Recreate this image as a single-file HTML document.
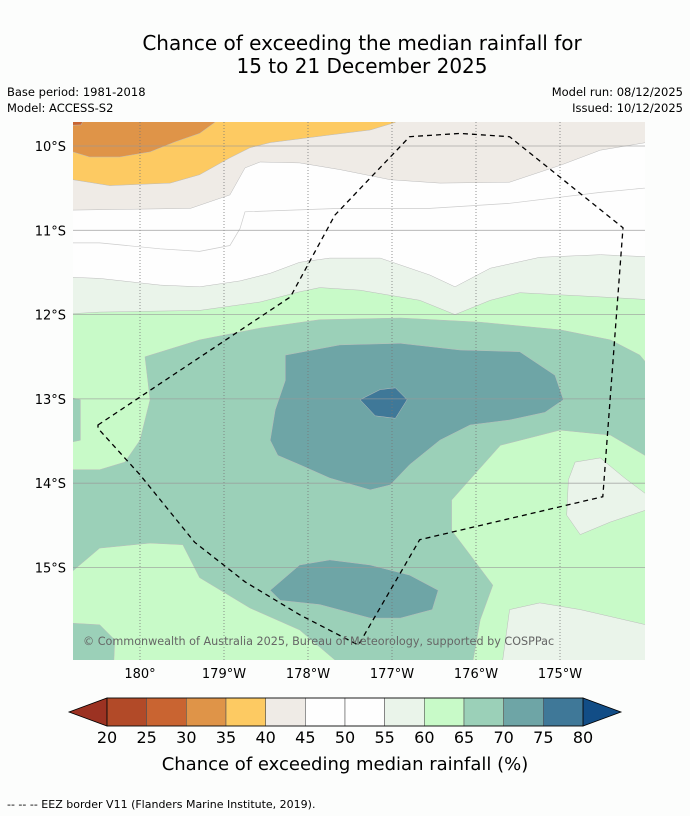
<!DOCTYPE html>
<html><head><meta charset="utf-8"><style>
body{margin:0;background:#fcfdfc;font-family:"DejaVu Sans",sans-serif;}
svg{display:block}
</style></head><body>
<svg id="s" width="690" height="816" xmlns="http://www.w3.org/2000/svg" font-family="DejaVu Sans, Liberation Sans, sans-serif">
<rect width="690" height="816" fill="#fcfdfc"/>
<text x="362" y="50" font-size="20" text-anchor="middle" fill="#000">Chance of exceeding the median rainfall for</text>
<text x="362" y="73" font-size="20" text-anchor="middle" fill="#000">15 to 21 December 2025</text>
<text x="7" y="96" font-size="11.5">Base period: 1981-2018</text>
<text x="7" y="112" font-size="11.5">Model: ACCESS-S2</text>
<text x="683" y="96" font-size="11.5" text-anchor="end">Model run: 08/12/2025</text>
<text x="683" y="112" font-size="11.5" text-anchor="end">Issued: 10/12/2025</text>
<defs><clipPath id="mc"><rect x="73" y="122" width="572" height="538"/></clipPath></defs>
<g id="map" clip-path="url(#mc)"><rect x="73" y="122" width="572" height="538" fill="#fefefe"/></g>
<g id="axes"></g>
<g id="cbar"></g>
<text x="345" y="770" font-size="18" text-anchor="middle">Chance of exceeding median rainfall (%)</text>
<text x="7" y="808" font-size="11">--  --  -- EEZ border V11 (Flanders Marine Institute, 2019).</text>
</svg>
<script>
const levels=[20,25,30,35,40,45,50,55,60,65,70,75,80];
const colors=["#9c3222","#b24a28","#c96431","#df9448","#fdca62","#efebe6","#fefefe","#fefefe","#eaf4ea","#c8fac8","#9bd0b8","#6ea5a6","#3f7898","#124d86"];
const lonTicks=[0,1,2,3,4,5];
const lonLabels=["180°","179°W","178°W","177°W","176°W","175°W"];
const latTicks=[10,11,12,13,14,15];
const latLabels=["10°S","11°S","12°S","13°S","14°S","15°S"];
const beige=[[-1,9.5],[6.2,9.5],[6.2,9.93],[5.48,10.05],[5.0,10.23],[4.40,10.43],[3.57,10.44],[2.98,10.40],[2.38,10.28],[1.90,10.20],[1.43,10.19],[1.25,10.26],[1.07,10.58],[0.60,10.74],[-0.80,10.76],[-1,10.76]];
const yellow=[[-1,9.5],[3.1,9.5],[3.04,9.72],[2.74,9.81],[2.26,9.87],[1.55,9.96],[1.31,10.02],[1.07,10.14],[0.71,10.34],[0.36,10.44],[-0.36,10.47],[-0.80,10.40],[-1,10.40]];
const orange=[[-1,9.5],[0.95,9.5],[0.89,9.72],[0.71,9.85],[0.42,9.95],[0.12,10.07],[-0.24,10.13],[-0.60,10.13],[-0.80,10.07],[-1,10.07]];
const darkOrange=[[-1,9.5],[-0.6,9.5],[-0.70,9.75],[-1,9.76]];
const line4550=[[-1,11.15],[-0.48,11.15],[0.24,11.22],[0.71,11.25],[1.07,11.18],[1.19,10.98],[1.25,10.78],[2.38,10.74],[3.45,10.74],[4.40,10.68],[5.48,10.55],[6.2,10.48]];
const lightGreen=[[-1,11.55],[-0.48,11.57],[0.24,11.65],[0.71,11.67],[1.19,11.60],[1.55,11.51],[1.90,11.38],[2.26,11.33],[2.86,11.33],[3.45,11.53],[3.75,11.67],[4.17,11.45],[4.76,11.32],[5.48,11.29],[6.2,11.32],[6.2,16.3],[-1,16.3]];
const green=[[-1,12.0],[-0.48,11.97],[0.71,11.95],[1.43,11.85],[1.90,11.73],[2.14,11.68],[2.62,11.71],[3.33,11.83],[3.75,12.0],[4.17,11.83],[4.52,11.74],[5.48,11.79],[6.2,11.83],[6.2,16.3],[-1,16.3]];
const lgPatch=[[5.18,13.75],[5.48,13.70],[5.77,13.94],[6.2,14.26],[5.60,14.46],[5.24,14.61],[5.08,14.38],[5.10,13.96]];
const lgBottom=[[4.29,16.3],[4.40,15.50],[4.76,15.42],[5.24,15.50],[6.2,15.72],[6.2,16.3]];
const teal=[[0.06,12.50],[0.71,12.30],[1.43,12.16],[2.14,12.06],[3.10,12.04],[4.05,12.09],[5.0,12.18],[5.60,12.30],[5.95,12.48],[6.2,12.78],[6.2,13.78],[5.60,13.43],[5.0,13.37],[4.29,13.55],[3.87,14.02],[3.71,14.20],[3.71,14.56],[3.93,14.85],[4.20,15.21],[4.05,15.62],[3.93,16.3],[2.56,16.3],[1.90,15.74],[1.31,15.48],[0.71,15.12],[0.51,14.73],[0.12,14.71],[-0.48,14.77],[-1,15.21],[-1,13.84],[-0.48,13.84],[-0.18,13.75],[0,13.49],[0.12,13.01]];
const tealStrip=[[-1,12.95],[-0.71,13.01],[-0.71,13.49],[-1,13.55]];
const tealBL=[[-1,15.65],[-0.48,15.68],[-0.30,15.86],[-0.32,16.3],[-1,16.3]];
const darkTeal=[[1.73,12.48],[2.38,12.36],[3.10,12.34],[3.81,12.42],[4.52,12.44],[4.94,12.72],[5.04,13.01],[4.82,13.16],[4.40,13.25],[3.93,13.31],[3.57,13.49],[3.21,13.78],[2.98,14.02],[2.74,14.08],[2.26,13.94],[1.90,13.78],[1.64,13.67],[1.55,13.49],[1.61,13.13],[1.73,12.78]];
const darkTealB=[[1.55,15.27],[1.90,14.97],[2.26,14.91],[2.74,14.97],[3.21,15.09],[3.55,15.27],[3.48,15.50],[3.10,15.60],[2.74,15.60],[2.14,15.44],[1.67,15.39]];
const blue=[[2.62,13.01],[2.86,12.89],[3.04,12.87],[3.18,13.01],[3.04,13.23],[2.80,13.20]];
const eez=[[-0.50,13.31],[1.79,11.79],[2.32,10.82],[3.21,9.89],[3.81,9.85],[4.40,9.89],[5.75,10.97],[5.51,14.16],[3.33,14.67],[2.60,15.92],[1.90,15.56],[1.25,15.17],[0.65,14.70],[0,13.90],[-0.50,13.35]];

const NS="http://www.w3.org/2000/svg";
const X=l=>140+l*84, Y=t=>146+(t-10)*84.3;
const map=document.getElementById('map'), axes=document.getElementById('axes'), cb=document.getElementById('cbar');
function mk(tag,at,p){const e=document.createElementNS(NS,tag);for(const k in at)e.setAttribute(k,at[k]);p.appendChild(e);return e;}
function pts(a){return a.map(p=>X(p[0]).toFixed(1)+","+Y(p[1]).toFixed(1)).join(" ");}
function poly(a,fill,name){const e=mk('polygon',{points:pts(a),fill:fill,stroke:"#bbb","stroke-width":0.5},map);

}
poly(beige,colors[5],'contour-40-45');
poly(yellow,colors[4],'contour-35-40');
poly(orange,colors[3],'contour-30-35');
poly(darkOrange,colors[2],'contour-25-30');
const l45=mk('polyline',{points:pts(line4550),fill:"none",stroke:"#ccc","stroke-width":0.7},map);


poly(lightGreen,colors[8],'contour-55-60');
poly(green,colors[9],'contour-60-65');
poly(lgPatch,colors[8],'contour-55-60-east');
poly(lgBottom,colors[8],'contour-55-60-south');
poly(teal,colors[10],'contour-65-70');
poly(tealStrip,colors[10],'contour-65-70-west');
poly(tealBL,colors[10],'contour-65-70-southwest');
poly(darkTeal,colors[11],'contour-70-75');
poly(darkTealB,colors[11],'contour-70-75-south');
poly(blue,colors[12],'contour-75-80');
lonTicks.forEach((l,i)=>{
 const g=mk('line',{x1:X(l),x2:X(l),y1:122,y2:660,stroke:"#777","stroke-width":0.8,"stroke-dasharray":"1,2"},map);
 
 
 const t=mk('text',{x:X(l),y:678,"font-size":13,"text-anchor":"middle"},axes);t.textContent=lonLabels[i];
 
 
});
latTicks.forEach((l,i)=>{
 const g=mk('line',{x1:73,x2:645,y1:Y(l),y2:Y(l),stroke:"#999","stroke-width":0.8,opacity:0.8},map);
 
 
 const t=mk('text',{x:66,y:Y(l)+5,"font-size":13,"text-anchor":"end"},axes);t.textContent=latLabels[i];
 
 
});
const ez=mk('polygon',{points:pts(eez),fill:"none",stroke:"#000","stroke-width":1.3,"stroke-dasharray":"5,4"},map);


const cr=mk('text',{x:83,y:645,"font-size":11.2,fill:"#666"},map);cr.textContent="© Commonwealth of Australia 2025, Bureau of Meteorology, supported by COSPPac";


const x0=107,x1=583,y0=698,y1=726,n=levels.length-1,w=(x1-x0)/n;
const lt=mk('polygon',{points:`${x0},${y0} ${x0},${y1} 69,${(y0+y1)/2}`,fill:colors[0],stroke:"#000","stroke-width":0.8},cb);


const rt=mk('polygon',{points:`${x1},${y0} ${x1},${y1} 621,${(y0+y1)/2}`,fill:colors[13],stroke:"#000","stroke-width":0.8},cb);


for(let i=0;i<n;i++){
 const r=mk('rect',{x:x0+i*w,y:y0,width:w,height:y1-y0,fill:colors[i+1],stroke:"#555","stroke-width":0.6},cb);
 
 
}
mk('rect',{x:x0,y:y0,width:x1-x0,height:y1-y0,fill:"none",stroke:"#000","stroke-width":0.8},cb);
levels.forEach((v,i)=>{
 const t=mk('text',{x:x0+i*w,y:743,"font-size":16,"text-anchor":"middle"},cb);t.textContent=v;
 
 
});
</script>
</body></html>
